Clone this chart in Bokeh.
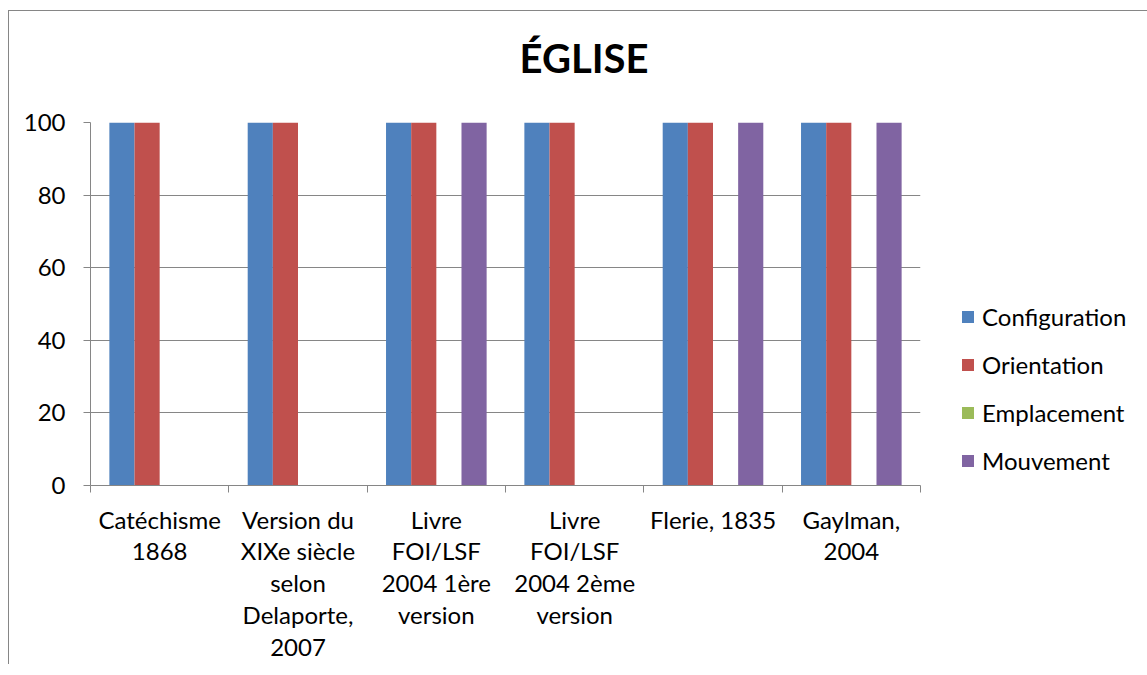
import numpy as np
from bokeh.plotting import figure
from bokeh.models import (ColumnDataSource, Range1d, FixedTicker, Legend, LegendItem, Title)
from bokeh.transform import dodge
from bokeh.embed import file_html
from bokeh.resources import INLINE

# ---- data ----
title_text = "ÉGLISE"
categories = [
    "Catéchisme\n1868",
    "Version du\nXIXe siècle\nselon\nDelaporte,\n2007",
    "Livre\nFOI/LSF\n2004 1ère\nversion",
    "Livre\nFOI/LSF\n2004 2ème\nversion",
    "Flerie, 1835",
    "Gaylman,\n2004",
]
series_names = ["Configuration", "Orientation", "Emplacement", "Mouvement"]
configuration = [100, 100, 100, 100, 100, 100]
orientation = [100, 100, 100, 100, 100, 100]
emplacement = [0, 0, 0, 0, 0, 0]
mouvement = [0, 0, 100, 0, 100, 100]
y_ticks = [0, 20, 40, 60, 80, 100]

colors = ["#4F81BD", "#C0504D", "#9BBB59", "#8064A2"]
FONT = "Lato"

n = len(categories)
centers = list(np.arange(n) + 0.5)
src = ColumnDataSource(dict(
    x=centers,
    Configuration=configuration,
    Orientation=orientation,
    Emplacement=emplacement,
    Mouvement=mouvement,
))

p = figure(frame_width=830, frame_height=363, output_backend="svg", toolbar_location=None,
           x_range=Range1d(0, n), y_range=Range1d(0, 100),
           min_border_left=81, min_border_right=227,
           min_border_top=111, min_border_bottom=175)
p.title_location = None
p.styles = {"margin-left": "8px", "margin-top": "10px",
            "border-left": "1px solid #868686", "border-top": "1px solid #868686"}
p.outline_line_color = None
p.background_fill_color = "white"
p.border_fill_color = "white"

bw = 1 / 5.5
offsets = [-1.5 * bw, -0.5 * bw, 0.5 * bw, 1.5 * bw]
items = []
for name, col, off in zip(series_names, colors, offsets):
    r = p.vbar(x=dodge("x", off, range=p.x_range), top=name, width=bw, bottom=0,
               source=src, fill_color=col, line_color=None)
    items.append(LegendItem(label=name, renderers=[r]))

# a blank spacer next to the frame, then the title above it
p.add_layout(Title(text=" ", text_font_size="1px", standoff=38), "above")
p.add_layout(Title(text=title_text, align="left", offset=429, text_font=FONT,
                   text_font_style="bold", text_font_size="40px",
                   text_color="black", vertical_align="bottom", standoff=0), "above")

# y axis
ya = p.yaxis[0]
ya.ticker = FixedTicker(ticks=y_ticks, minor_ticks=[])
ya.axis_line_color = "#868686"
ya.major_tick_line_color = "#868686"
ya.major_tick_out = 7
ya.major_tick_in = 0
ya.minor_tick_line_color = None
ya.major_label_standoff = 18
ya.major_label_text_font = FONT
ya.major_label_text_font_size = "24px"
ya.major_label_text_color = "black"

# x axis
xa = p.xaxis[0]
xa.ticker = FixedTicker(ticks=centers, minor_ticks=list(range(n + 1)))
xa.major_label_overrides = {c: lab for c, lab in zip(centers, categories)}
xa.axis_line_color = "#868686"
xa.major_tick_line_color = None
xa.major_tick_out = 0
xa.major_tick_in = 0
xa.minor_tick_line_color = "#868686"
xa.minor_tick_out = 7
xa.minor_tick_in = 0
xa.major_label_standoff = 12
xa.major_label_text_font = FONT
xa.major_label_text_font_size = "24px"
xa.major_label_text_color = "black"
xa.major_label_text_line_height = 1.1

p.xgrid.grid_line_color = None
p.ygrid.grid_line_color = "#868686"
p.ygrid.ticker = FixedTicker(ticks=y_ticks)

legend = Legend(items=items, location=(40, 10), orientation="vertical",
                padding=0, margin=0, border_line_color=None,
                background_fill_alpha=0,
                glyph_width=15, glyph_height=15, label_standoff=7,
                label_height=29, spacing=19,
                label_text_font=FONT, label_text_font_size="24px",
                label_text_color="black")
p.add_layout(legend, "right")

open("out.html", "w").write(file_html(p, INLINE))
